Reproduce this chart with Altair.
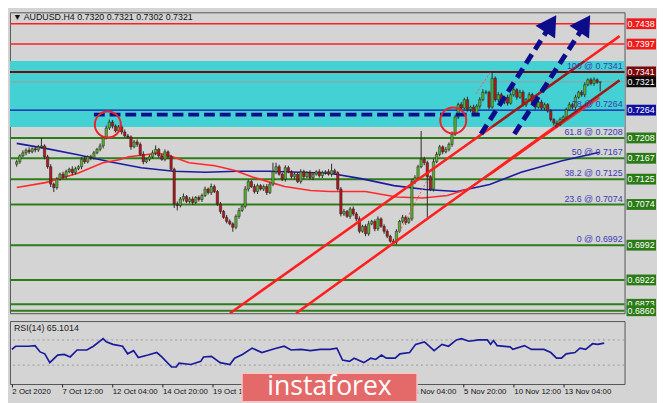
import altair as alt
import pandas as pd
import numpy as np

# ---------------- values ----------------
header_text = "\u25BC AUDUSD.H4  0.7320 0.7321 0.7302 0.7321"
rsi_text = "RSI(14) 65.1014"
watermark_text = "instaforex"

first_open = 7155  # pips (price * 10000)
close_pips = [
    7160, 7172, 7178, 7183, 7180, 7186, 7184, 7190, 7192, 7170,
    7150, 7115, 7108, 7125, 7135, 7130, 7140, 7145, 7138, 7146,
    7150, 7165, 7160, 7170, 7168, 7178, 7185, 7192, 7208, 7228,
    7240, 7232, 7222, 7230, 7220, 7212, 7210, 7190, 7200, 7195,
    7175, 7160, 7165, 7170, 7178, 7185, 7172, 7165, 7180, 7170,
    7145, 7075, 7072, 7085, 7090, 7080, 7085, 7078, 7088, 7084,
    7092, 7105, 7098, 7110, 7100, 7075, 7060, 7048, 7040, 7035,
    7028, 7050, 7062, 7070, 7105, 7120, 7110, 7100, 7112, 7105,
    7110, 7098, 7115, 7140, 7150, 7135, 7125, 7148, 7140, 7130,
    7135, 7120, 7140, 7130, 7138, 7128, 7135, 7140, 7132, 7138,
    7140, 7135, 7142, 7138, 7105, 7055, 7060, 7050, 7065, 7055,
    7045, 7020, 7030, 7015, 7035, 7040, 7025, 7045, 7030, 7020,
    7010, 7000, 6998, 7020, 7040, 7048, 7038, 7045, 7120, 7128,
    7150, 7165, 7158, 7130, 7105, 7160, 7175, 7190, 7180, 7185,
    7195, 7215, 7250, 7275, 7268, 7285, 7265, 7270, 7258, 7272,
    7285, 7300, 7300, 7270, 7328, 7285, 7295, 7280, 7290, 7278,
    7295, 7305, 7290, 7300, 7275, 7285, 7295, 7278, 7270, 7280,
    7268, 7275, 7262, 7245, 7238, 7235, 7245, 7250, 7265, 7275,
    7270, 7290, 7300, 7295, 7315, 7325, 7318, 7325, 7320, 7321,
]
upper_wick = [
    4, 3, 5, 4, 6, 3, 5, 4, 16, 3,
    4, 5, 3, 4, 3, 5, 4, 3, 6, 4,
    3, 4, 5, 3, 4, 4, 3, 5, 4, 5,
    5, 4, 3, 4, 3, 5, 4, 3, 4, 5,
    4, 6, 3, 4, 5, 8, 3, 4, 5, 3,
    4, 3, 5, 4, 6, 3, 4, 5, 3, 4,
    4, 5, 3, 6, 4, 3, 4, 3, 5, 4,
    3, 4, 5, 3, 6, 4, 3, 5, 4, 3,
    4, 5, 3, 18, 8, 4, 3, 5, 4, 3,
    4, 3, 5, 4, 3, 5, 4, 3, 5, 4,
    3, 5, 14, 4, 3, 4, 5, 3, 4, 5,
    4, 5, 3, 4, 6, 3, 4, 5, 3, 4,
    4, 3, 5, 4, 3, 5, 4, 3, 6, 5,
    4, 57, 5, 4, 3, 6, 5, 4, 3, 5,
    4, 6, 5, 4, 5, 4, 6, 3, 5, 4,
    5, 6, 4, 3, 13, 4, 5, 4, 3, 5,
    4, 6, 3, 5, 4, 3, 5, 4, 3, 4,
    5, 4, 3, 4, 3, 5, 4, 3, 4, 5,
    4, 5, 3, 4, 5, 3, 4, 5, 3, 0,
]
lower_wick = [
    5, 4, 3, 5, 4, 3, 5, 4, 3, 5,
    4, 6, 9, 4, 3, 5, 4, 3, 5, 4,
    3, 5, 4, 3, 5, 4, 3, 4, 5, 3,
    4, 5, 3, 4, 5, 3, 4, 6, 3, 5,
    4, 5, 3, 4, 3, 5, 4, 3, 4, 5,
    3, 8, 10, 4, 5, 3, 4, 5, 3, 4,
    5, 3, 4, 5, 3, 4, 5, 3, 4, 3,
    9, 4, 5, 3, 4, 5, 3, 4, 5, 3,
    4, 5, 3, 4, 5, 3, 4, 5, 3, 4,
    5, 3, 4, 5, 3, 4, 5, 3, 4, 5,
    4, 3, 5, 4, 3, 5, 4, 3, 5, 4,
    5, 4, 3, 5, 4, 3, 5, 4, 3, 5,
    4, 3, 4, 5, 3, 4, 5, 3, 4, 5,
    4, 3, 5, 82, 4, 5, 3, 4, 5, 3,
    4, 5, 3, 4, 5, 3, 4, 5, 3, 4,
    5, 3, 4, 5, 3, 4, 5, 3, 4, 5,
    3, 4, 5, 3, 4, 5, 3, 4, 5, 3,
    4, 5, 3, 4, 5, 6, 3, 4, 5, 3,
    4, 5, 3, 4, 5, 3, 4, 5, 3, 18,
]

ma_red_bar = [0, 9.3, 19.8, 27.9, 33.2, 36.3, 45.6, 48.7, 55.8, 64.2, 70.4, 76.6,
              81.9, 86.8, 95.2, 101.4, 112.9, 123.1, 131.5, 139.5, 145.7, 154.1, 169.6, 188.8]
ma_red_val = [7108, 7118, 7137, 7158, 7164, 7170, 7177, 7174, 7158, 7152, 7143, 7129,
              7119, 7110, 7102, 7100, 7100, 7089, 7087, 7092, 7104, 7137, 7206, 7289]
ma_blue_bar = [0, 9.3, 19.8, 30.1, 40.3, 50.9, 61.1, 71.3, 81.9, 101.4, 111.6, 122.2,
               132.4, 142.6, 153.2, 163.4, 176.7, 188.8]
ma_blue_val = [7197, 7187, 7174, 7160, 7148, 7141, 7139, 7141, 7141, 7137, 7126, 7112,
               7104, 7100, 7114, 7139, 7162, 7179]

rsi_bar = [0, 1.2, 5.3, 7.4, 9.0, 10.5, 12.1, 14.6, 16.7, 18.6, 20.8, 23.9, 26.0, 29.1,
           30.1, 32.2, 35.3, 36.9, 38.8, 40.3, 43.4, 46.2, 47.8, 50.9, 52.4, 53.3, 57.1,
           60.2, 61.1, 63.6, 66.4, 69.5, 71.0, 73.5, 76.6, 79.7, 83.7, 86.8, 89.0, 92.1,
           95.2, 98.3, 101.4, 103.6, 105.4, 107.6, 109.1, 112.2, 114.4, 116.0, 117.8,
           119.4, 122.2, 123.7, 126.8, 128.7, 131.5, 132.4, 134.6, 137.1, 139.2, 141.7,
           143.3, 145.7, 148.8, 151.6, 152.6, 153.5, 154.7, 158.8, 159.7, 163.4, 165.6,
           169.6, 171.8, 173.6, 175.2, 176.7, 179.5, 181.1, 182.9, 185.1, 186.7, 188.8]
rsi_val = [55, 60, 60, 61, 51, 48, 34, 46, 47, 43, 54, 54, 60, 72, 67, 63, 60, 48, 53, 42,
           46, 50, 43, 27, 27, 33, 31, 36, 43, 44, 34, 31, 41, 47, 57, 50, 56, 60, 54, 55,
           53, 55, 55, 57, 38, 36, 41, 34, 41, 39, 46, 41, 41, 48, 50, 63, 67, 63, 53, 63,
           60, 70, 72, 68, 70, 70, 63, 69, 61, 59, 55, 61, 55, 55, 50, 41, 41, 48, 50, 57,
           55, 64, 63, 65]
rsi_levels = [30, 70]
rsi_ticks = [0, 30, 70, 100]

level_prices = [0.7438, 0.7397, 0.7341, 0.7321, 0.7264, 0.7208, 0.7167, 0.7125,
                0.7074, 0.6992, 0.6922, 0.6873, 0.6860]
fib_prices = [0.7341, 0.7264, 0.7208, 0.7167, 0.7125, 0.7074, 0.6992]
fib_texts = ["100 @ 0.7341", "78 @ 0.7264", "61.8 @ 0.7208", "50 @ 0.7167",
             "38.2 @ 0.7125", "23.6 @ 0.7074", "0 @ 0.6992"]
plain_ticks = [0.7455, 0.7290, 0.7240, 0.7185, 0.7025, 0.6970]
band_lo, band_hi = 0.7230, 0.7363

trend_bars = [[69.1, 195.3], [90.5, 195.3]]
trend_prices = [[0.6855, 0.7413], [0.6855, 0.7324]]
zigzag_bars = [[124, 133], [148.8, 153.5]]
zigzag_prices = [[0.7019, 0.7123], [0.7297, 0.7341]]
hdash_bars = [25, 150]
hdash_price = 0.7255
arrow_bars = [[150.4, 172.2], [161.2, 183.2]]
arrow_prices = [[0.7216, 0.7428], [0.7216, 0.7428]]
head_bars = [173.0, 184.0]
head_prices = [0.7438, 0.7438]
circle_bars = [29.5, 141.4]
circle_prices = [0.7235, 0.7243]

# bar positions of the date ticks; the ones under the watermark are fully hidden there
date_ticks = [0, 16, 32, 48, 64, 128, 144, 160, 176]
date_labels = ["2 Oct 2020", "7 Oct 12:00", "12 Oct 04:00", "14 Oct 20:00", "19 Oct 12:00",
               "22 Oct 04:00", "26 Oct 20:00", "29 Oct 12:00", "3 Nov 04:00", "5 Nov 20:00",
               "10 Nov 12:00", "13 Nov 04:00"]

# ---------------- styles ----------------
W, H1, H2 = 625, 306, 64
FONT = "Liberation Sans"
BG = "#d4d4d4"
CYAN = "#43d1d3"
NAVY = "#0d0d8c"
RED = "#ff1f1f"
DARKRED = "#a01818"
GREEN = "#2e7d18"
level_colors = ["#ff2020", "#ff2020", "#7a0a0a", "#9c9c9c", "#1414a8"] + [GREEN] * 8
level_widths = [1.5, 1.5, 2, 1, 1.5] + [2] * 8
box_colors = ["#f01a1a", "#f01a1a", "#7a0a0a", "#0a0a0a", "#1010a0"] + ["#2a7a16"] * 8

xs = alt.Scale(domain=[-0.6, 195.3], nice=False, zero=False)
ys = alt.Scale(domain=[0.6855, 0.7461], nice=False, zero=False)
rs = alt.Scale(domain=[0, 100], nice=False, zero=False)

# ---------------- tables ----------------
n = len(close_pips)
opens = np.array([first_open] + close_pips[:-1], dtype=float)
closes = np.array(close_pips, dtype=float)
candles = pd.DataFrame({
    "i": np.arange(n),
    "o": opens / 1e4,
    "c": closes / 1e4,
    "h": (np.maximum(opens, closes) + np.array(upper_wick)) / 1e4,
    "l": (np.minimum(opens, closes) - np.array(lower_wick)) / 1e4,
})
candles["dir"] = np.where(closes >= opens, "up", "down")

levels = pd.DataFrame({"p": level_prices, "col": level_colors, "w": level_widths,
                       "t": [f"{p:.4f}" for p in level_prices], "box": box_colors})
fibs = pd.DataFrame({"p": fib_prices, "t": fib_texts})
band = pd.DataFrame({"lo": [band_lo], "hi": [band_hi]})

ma = pd.concat([
    pd.DataFrame({"b": ma_blue_bar, "p": np.array(ma_blue_val) / 1e4, "s": "blue", "col": "#1c1ca0"}),
    pd.DataFrame({"b": ma_red_bar, "p": np.array(ma_red_val) / 1e4, "s": "red", "col": "#ff2a2a"}),
])

seg_rows = []
for (b0, b1), (p0, p1) in zip(trend_bars, trend_prices):
    ps = [p0] + [q for q in (band_lo, band_hi) if p0 < q < p1] + [p1]
    bs = np.interp(ps, [p0, p1], [b0, b1])
    for k in range(len(ps) - 1):
        mid = (ps[k] + ps[k + 1]) / 2
        seg_rows.append({"b0": bs[k], "b1": bs[k + 1], "p0": ps[k], "p1": ps[k + 1],
                         "col": DARKRED if band_lo <= mid <= band_hi else RED})
trend = pd.DataFrame(seg_rows)

zig = pd.DataFrame({"b0": [z[0] for z in zigzag_bars], "b1": [z[1] for z in zigzag_bars],
                    "p0": [z[0] for z in zigzag_prices], "p1": [z[1] for z in zigzag_prices]})
hdash = pd.DataFrame({"b0": [hdash_bars[0]], "b1": [hdash_bars[1]],
                      "p0": [hdash_price], "p1": [hdash_price]})
arrows = pd.DataFrame({"b0": [a[0] for a in arrow_bars], "b1": [a[1] for a in arrow_bars],
                       "p0": [a[0] for a in arrow_prices], "p1": [a[1] for a in arrow_prices]})
heads = pd.DataFrame({"b": head_bars, "p": head_prices})
circles = pd.DataFrame({"b": circle_bars, "p": circle_prices})

# ---------------- main panel ----------------
yaxis = alt.Axis(orient="right", values=plain_ticks, format=".4f", title=None, labelFontSize=9,
                 labelFont=FONT, labelColor="#111", tickSize=2, tickColor="#222", labelPadding=1,
                 domain=False, grid=False, labelFlush=5)

band_l = alt.Chart(band).mark_rect(color=CYAN).encode(
    y=alt.Y("lo:Q", scale=ys, axis=yaxis), y2="hi:Q",
    x=alt.value(0), x2=alt.value(W))

level_l = alt.Chart(levels).mark_rule().encode(
    y=alt.Y("p:Q", scale=ys, axis=None),
    color=alt.Color("col:N", scale=None),
    strokeWidth=alt.StrokeWidth("w:Q", scale=None))

ma_l = alt.Chart(ma).mark_line(strokeWidth=1.6).encode(
    x=alt.X("b:Q", scale=xs, axis=None), y=alt.Y("p:Q", scale=ys, axis=None),
    detail="s:N", color=alt.Color("col:N", scale=None))

wick_l = alt.Chart(candles).mark_rule(color="#2a2a2a", strokeWidth=1).encode(
    x=alt.X("i:Q", scale=xs, axis=None), y=alt.Y("l:Q", scale=ys, axis=None), y2="h:Q")

body_l = alt.Chart(candles).mark_bar(size=2.4, stroke="#1e1e1e", strokeWidth=0.5).encode(
    x=alt.X("i:Q", scale=xs, axis=None), y=alt.Y("o:Q", scale=ys, axis=None), y2="c:Q",
    color=alt.Color("dir:N", scale=alt.Scale(domain=["up", "down"], range=["#5cb230", "#b3181c"]),
                    legend=None))

trend_l = alt.Chart(trend).mark_rule(strokeWidth=2.6).encode(
    x=alt.X("b0:Q", scale=xs, axis=None), x2="b1:Q",
    y=alt.Y("p0:Q", scale=ys, axis=None), y2="p1:Q",
    color=alt.Color("col:N", scale=None))

zig_l = alt.Chart(zig).mark_rule(strokeWidth=1, strokeDash=[2, 2], color="#ff5050").encode(
    x=alt.X("b0:Q", scale=xs, axis=None), x2="b1:Q",
    y=alt.Y("p0:Q", scale=ys, axis=None), y2="p1:Q")

hdash_l = alt.Chart(hdash).mark_rule(strokeWidth=4, strokeDash=[11, 5], color=NAVY).encode(
    x=alt.X("b0:Q", scale=xs, axis=None), x2="b1:Q",
    y=alt.Y("p0:Q", scale=ys, axis=None), y2="p1:Q")

arrow_l = alt.Chart(arrows).mark_rule(strokeWidth=5, strokeDash=[11, 6], color=NAVY).encode(
    x=alt.X("b0:Q", scale=xs, axis=None), x2="b1:Q",
    y=alt.Y("p0:Q", scale=ys, axis=None), y2="p1:Q")

head_l = alt.Chart(heads).mark_point(shape="triangle-up", filled=True, size=560, angle=33,
                                     color=NAVY, opacity=1).encode(
    x=alt.X("b:Q", scale=xs, axis=None), y=alt.Y("p:Q", scale=ys, axis=None))

circle_l = alt.Chart(circles).mark_point(shape="circle", filled=False, size=700, strokeWidth=2,
                                         color="#e8262a", opacity=1).encode(
    x=alt.X("b:Q", scale=xs, axis=None), y=alt.Y("p:Q", scale=ys, axis=None))

fib_l = alt.Chart(fibs).mark_text(align="right", baseline="bottom", dy=-1, fontSize=9,
                                  font=FONT, color="#3b3bb5").encode(
    x=alt.value(W - 2), y=alt.Y("p:Q", scale=ys, axis=None), text="t:N")


def price_boxes(df):
    box = alt.Chart(df).mark_tick(size=30, thickness=11, opacity=1).encode(
        x=alt.value(W + 17), y=alt.Y("p:Q", scale=ys, axis=None),
        color=alt.Color("box:N", scale=None))
    txt = alt.Chart(df).mark_text(align="left", baseline="middle", fontSize=9, font=FONT,
                                  color="white").encode(
        x=alt.value(W + 3), y=alt.Y("p:Q", scale=ys, axis=None), text="t:N")
    return [box, txt]


# the lowest label box is drawn last, so it covers the one just above it, as on the terminal
boxes_upper = price_boxes(levels.iloc[:-1])
boxes_last = price_boxes(levels.iloc[-1:])

header_l = alt.Chart(pd.DataFrame({"t": [header_text]})).mark_text(
    align="left", baseline="top", fontSize=9, font=FONT, color="#111").encode(
    x=alt.value(3), y=alt.value(1), text="t:N")

main = alt.layer(band_l, level_l, ma_l, wick_l, body_l, trend_l, zig_l, hdash_l, arrow_l,
                 head_l, circle_l, fib_l, *boxes_upper, *boxes_last, header_l
                 ).properties(width=W, height=H1)

# ---------------- RSI panel ----------------
label_expr = "[" + ",".join(f"'{s}'" for s in date_labels) + "][round(datum.value/16)]"
xaxis = alt.Axis(values=date_ticks, labelExpr=label_expr, labelAlign="left", labelFlush=False,
                 labelOverlap=False, title=None, tickSize=3, tickColor="#222", domain=False,
                 grid=False, labelFontSize=8, labelFont=FONT, labelColor="#111", labelPadding=1)
raxis = alt.Axis(orient="right", values=rsi_ticks, title=None, labelFontSize=9, labelFont=FONT,
                 labelColor="#111", tickSize=2, tickColor="#222", labelPadding=2, domain=False,
                 grid=False, labelFlush=True)

rsi_df = pd.DataFrame({"b": rsi_bar, "v": rsi_val})
rlev_l = alt.Chart(pd.DataFrame({"v": rsi_levels})).mark_rule(
    strokeDash=[2, 3], color="#9a9a9a", strokeWidth=1).encode(
    y=alt.Y("v:Q", scale=rs, axis=raxis))
rsi_l = alt.Chart(rsi_df).mark_line(color="#1a1a9c", strokeWidth=1.7).encode(
    x=alt.X("b:Q", scale=xs, axis=xaxis), y=alt.Y("v:Q", scale=rs, axis=None))
rsitext_l = alt.Chart(pd.DataFrame({"t": [rsi_text]})).mark_text(
    align="left", baseline="top", fontSize=9, font=FONT, color="#222").encode(
    x=alt.value(4), y=alt.value(3), text="t:N")
wm_rect = alt.Chart(pd.DataFrame({"t": [watermark_text]})).mark_rect(
    fill="#e46a6a", stroke="#f6c6c6", strokeWidth=1.5).encode(
    x=alt.value(236), x2=alt.value(414), y=alt.value(53), y2=alt.value(82))
wm_text = alt.Chart(pd.DataFrame({"t": [watermark_text]})).mark_text(
    align="center", baseline="middle", fontSize=27, font="Open Sans", color="white").encode(
    x=alt.value(325), y=alt.value(67), text="t:N")

rsi = alt.layer(rlev_l, rsi_l, rsitext_l, wm_rect, wm_text).properties(width=W, height=H2)

chart = alt.vconcat(main, rsi, spacing=3).properties(
    background=BG, padding=0
).configure_view(stroke="#555555", strokeWidth=1)

chart.save("out.html", embed_options={"renderer": "svg", "actions": False})
